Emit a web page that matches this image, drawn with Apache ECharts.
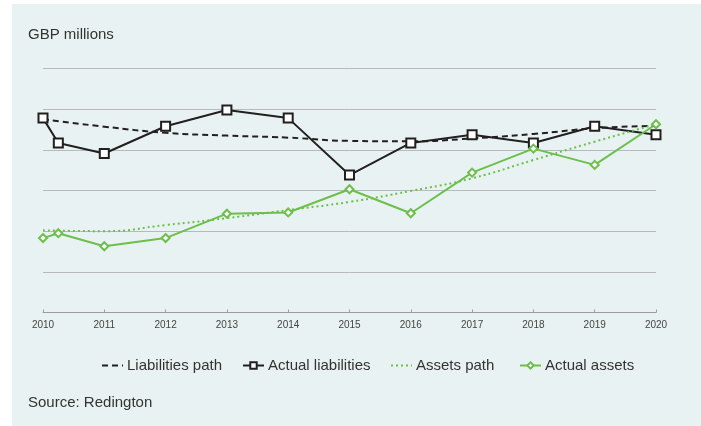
<!DOCTYPE html>
<html><head><meta charset="utf-8">
<script src="https://cdn.jsdelivr.net/npm/echarts@6/dist/echarts.min.js"></script>
<style>html,body{margin:0;padding:0;background:#fff;}#c{width:701px;height:426px;}</style>
</head><body><div id="c"></div>
<script>
const years = [2010, 2011, 2012, 2013, 2014, 2015, 2016, 2017, 2018, 2019, 2020];
const actualX = [2010, 2010.25, 2011, 2012, 2013, 2014, 2015, 2016, 2017, 2018, 2019, 2020];
const liabilitiesPath = [4.75, 4.57, 4.42, 4.35, 4.30, 4.22, 4.21, 4.28, 4.39, 4.53, 4.59];
const actualLiabilities = [4.78, 4.17, 3.91, 4.58, 4.98, 4.78, 3.38, 4.17, 4.37, 4.17, 4.58, 4.37];
const assetsPath = [2.02, 2.00, 2.15, 2.32, 2.52, 2.72, 2.99, 3.30, 3.75, 4.20, 4.63];
const actualAssets = [1.83, 1.95, 1.63, 1.83, 2.43, 2.46, 3.03, 2.44, 3.44, 4.03, 3.63, 4.63];
const seriesNames = ['Liabilities path', 'Actual liabilities', 'Assets path', 'Actual assets'];

const BLACK = '#231f20', GREEN = '#6cbf4a';
const pair = (xs, ys) => xs.map((x, i) => [x, ys[i]]);
const font = 'Liberation Sans, Arial, sans-serif';
const legendLefts = [101, 242, 390, 519];
const hideSymbol = [true, false, true, false];

const chart = echarts.init(document.getElementById('c'), null, {renderer: 'canvas'});
chart.setOption({
  animation: false,
  backgroundColor: '#fff',
  graphic: [
    {type: 'rect', shape: {x: 12, y: 4, width: 689, height: 422}, style: {fill: '#e8f2f3'}, z: -10},
    {type: 'text', left: 28, top: 27, style: {text: 'GBP millions', font: '15px ' + font, fill: '#333'}},
    {type: 'text', left: 28, top: 395, style: {text: 'Source: Redington', font: '15px ' + font, fill: '#333'}}
  ],
  grid: {left: 43, right: 45, top: 68.5, bottom: 113.5, containLabel: false},
  legend: seriesNames.map((n, i) => ({
    data: [hideSymbol[i] ? {name: n, itemStyle: {opacity: 0}} : {name: n}],
    top: 358, left: legendLefts[i], padding: 0,
    itemWidth: 21, itemHeight: 8,
    textStyle: {fontSize: 15, fontFamily: font, color: '#333', padding: [0, 0, 0, -1]}
  })),
  xAxis: {
    type: 'value', min: 2010, max: 2020, interval: 1,
    axisLine: {lineStyle: {color: '#9a9c9d', width: 1}},
    axisTick: {inside: true, length: 3, lineStyle: {color: '#9a9c9d'}},
    axisLabel: {fontSize: 10, fontFamily: font, color: '#444', margin: 8, formatter: v => String(v)},
    splitLine: {show: false}
  },
  yAxis: {
    type: 'value', min: 0, max: 6, interval: 1,
    axisLine: {show: false}, axisTick: {show: false}, axisLabel: {show: false},
    splitLine: {lineStyle: {color: '#b7babb', width: 1}}
  },
  series: [
    {name: seriesNames[0], type: 'line', data: pair(years, liabilitiesPath), smooth: true, symbol: 'none',
     lineStyle: {color: BLACK, width: 2, type: [6, 4]}, itemStyle: {color: BLACK}},
    {name: seriesNames[1], type: 'line', data: pair(actualX, actualLiabilities), symbol: 'rect', symbolSize: 9,
     lineStyle: {color: BLACK, width: 2}, itemStyle: {color: '#fff', borderColor: BLACK, borderWidth: 2}, z: 3},
    {name: seriesNames[2], type: 'line', data: pair(years, assetsPath), smooth: true, symbol: 'none',
     lineStyle: {color: GREEN, width: 2, type: [2, 3]}, itemStyle: {color: GREEN}},
    {name: seriesNames[3], type: 'line', data: pair(actualX, actualAssets), symbol: 'diamond', symbolSize: 8,
     lineStyle: {color: GREEN, width: 2}, itemStyle: {color: '#fff', borderColor: GREEN, borderWidth: 2}, z: 4}
  ]
});
</script></body></html>
